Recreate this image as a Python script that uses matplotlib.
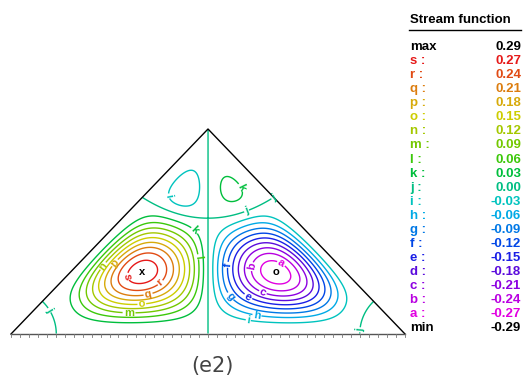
import numpy as np
import matplotlib
matplotlib.use('Agg')
import matplotlib.pyplot as plt

# stream function levels and their letter codes
letters = ['a', 'b', 'c', 'd', 'e', 'f', 'g', 'h', 'i', 'j',
           'k', 'l', 'm', 'n', 'o', 'p', 'q', 'r', 's']
levels = [-0.27, -0.24, -0.21, -0.18, -0.15, -0.12, -0.09, -0.06, -0.03, 0.00,
          0.03, 0.06, 0.09, 0.12, 0.15, 0.18, 0.21, 0.24, 0.27]
psi_max = 0.29
psi_min = -0.29

# one colour per level, magenta (a) through red (s)
colors = ['#e100e1', '#b900e1', '#8c00e1', '#5a0adc', '#1a1ee6', '#0046e6',
          '#0078e6', '#00aae6', '#00c3be', '#00be82', '#00be3c', '#3cc80a',
          '#73c800', '#a5c800', '#cdcd00', '#d7aa0a', '#dc7d0f', '#e14b14',
          '#e61919']

# triangular cavity (pixel frame): left, right, apex
tri_x = [11, 405, 208]
tri_y = [334, 334, 129]
scale = 394.0
apex_v = (tri_y[0] - tri_y[2]) / scale
slope = apex_v / 0.5

# model stream function: two counter-rotating main cells, two weak cells
# under the apex and small eddies in the bottom corners
u = np.linspace(0, 1, 900)
v = np.linspace(0, apex_v, 480)
U, V = np.meshgrid(u, v)
d_left = slope * U - V
d_right = slope * (1 - U) - V
inside = (d_left > 0) & (d_right > 0) & (V > 0)

wall = (V * d_left * d_right) ** 2
width = np.where(U < 0.5, 0.19, 0.23)
side = np.tanh((0.5 - U) / width)
top = 0.294 + 1.9 * (U - 0.5) ** 2
layer = (top - V) * (1 + 4 * np.clip(V - top, 0, None)) * np.exp(6.8 * V)
r_l = np.hypot(U, V)
r_r = np.hypot(U - 1, V)
corner = (1 - 2 * np.exp(-(r_l / 0.138) ** 2)) * (1 - 2 * np.exp(-(r_r / 0.138) ** 2))
raw = np.ma.masked_where(~inside, wall * side * layer * corner)
psi = np.ma.where(raw > 0, raw * psi_max / raw.max(), raw * psi_min / raw.min())

PX = tri_x[0] + scale * U
PY = tri_y[0] - scale * V

fig = plt.figure(figsize=(5.26, 3.83), dpi=100)
ax = fig.add_axes([0, 0, 1, 1])
ax.set_xlim(0, 526)
ax.set_ylim(383, 0)
ax.axis('off')

cs = ax.contour(PX, PY, psi, levels=levels, colors=colors, linewidths=1.0)

label_spots = [(103, 266), (115, 263), (124, 277), (158, 280), (148, 294),
               (142, 306), (129, 315), (193, 232), (197, 257), (45, 313),
               (169, 196), (242, 187), (247, 212), (275, 200), (230, 265),
               (232, 295), (254, 267), (282, 262), (248, 297), (263, 292),
               (257, 315), (248, 322), (362, 330)]
fmt = dict(zip(cs.levels, letters))
labels = ax.clabel(cs, fmt=fmt, manual=label_spots, inline=True,
                   inline_spacing=1, fontsize=8)
for t in labels:
    t.set_fontweight('bold')
    t.set_fontfamily('Liberation Sans')

# extreme points of the two main cells
iy, ix = np.unravel_index(np.argmax(psi), psi.shape)
ax.text(PX[iy, ix], PY[iy, ix], 'x', ha='center', va='center',
        fontsize=8, fontweight='bold', family='Liberation Sans')
iy, ix = np.unravel_index(np.argmin(psi), psi.shape)
ax.text(PX[iy, ix], PY[iy, ix], 'o', ha='center', va='center',
        fontsize=8, fontweight='bold', family='Liberation Sans')

# cavity walls, bottom wall with its mesh ticks
ax.plot([tri_x[0], tri_x[2], tri_x[1]], [tri_y[0], tri_y[2], tri_y[1]],
        color='black', lw=1.0)
ax.plot([tri_x[0], tri_x[1]], [tri_y[0], tri_y[1]], color='#555555', lw=1.0)
for xt in np.linspace(tri_x[0], tri_x[1], 45):
    ax.plot([xt, xt], [tri_y[0], tri_y[0] + 2.5], color='#777777', lw=0.6)

# legend table
font = dict(family='Liberation Sans', fontweight='bold', fontsize=9.5)
ax.text(410, 23, 'Stream function', ha='left', va='baseline', color='black', **font)
ax.plot([409, 521], [29.5, 29.5], color='black', lw=1.0)
rows = ['max'] + ['%s :' % l for l in letters[::-1]] + ['min']
vals = [psi_max] + levels[::-1] + [psi_min]
row_colors = ['black'] + colors[::-1] + ['black']
for i, (name, val, c) in enumerate(zip(rows, vals, row_colors)):
    y = 50 + 14.07 * i
    ax.text(410, y, name, ha='left', va='baseline', color=c, **font)
    ax.text(521, y, '%.2f' % val, ha='right', va='baseline', color=c, **font)

ax.text(212, 366, '(e2)', ha='center', va='center', fontsize=15, color='#444444')

fig.savefig('out.png', dpi=100)
